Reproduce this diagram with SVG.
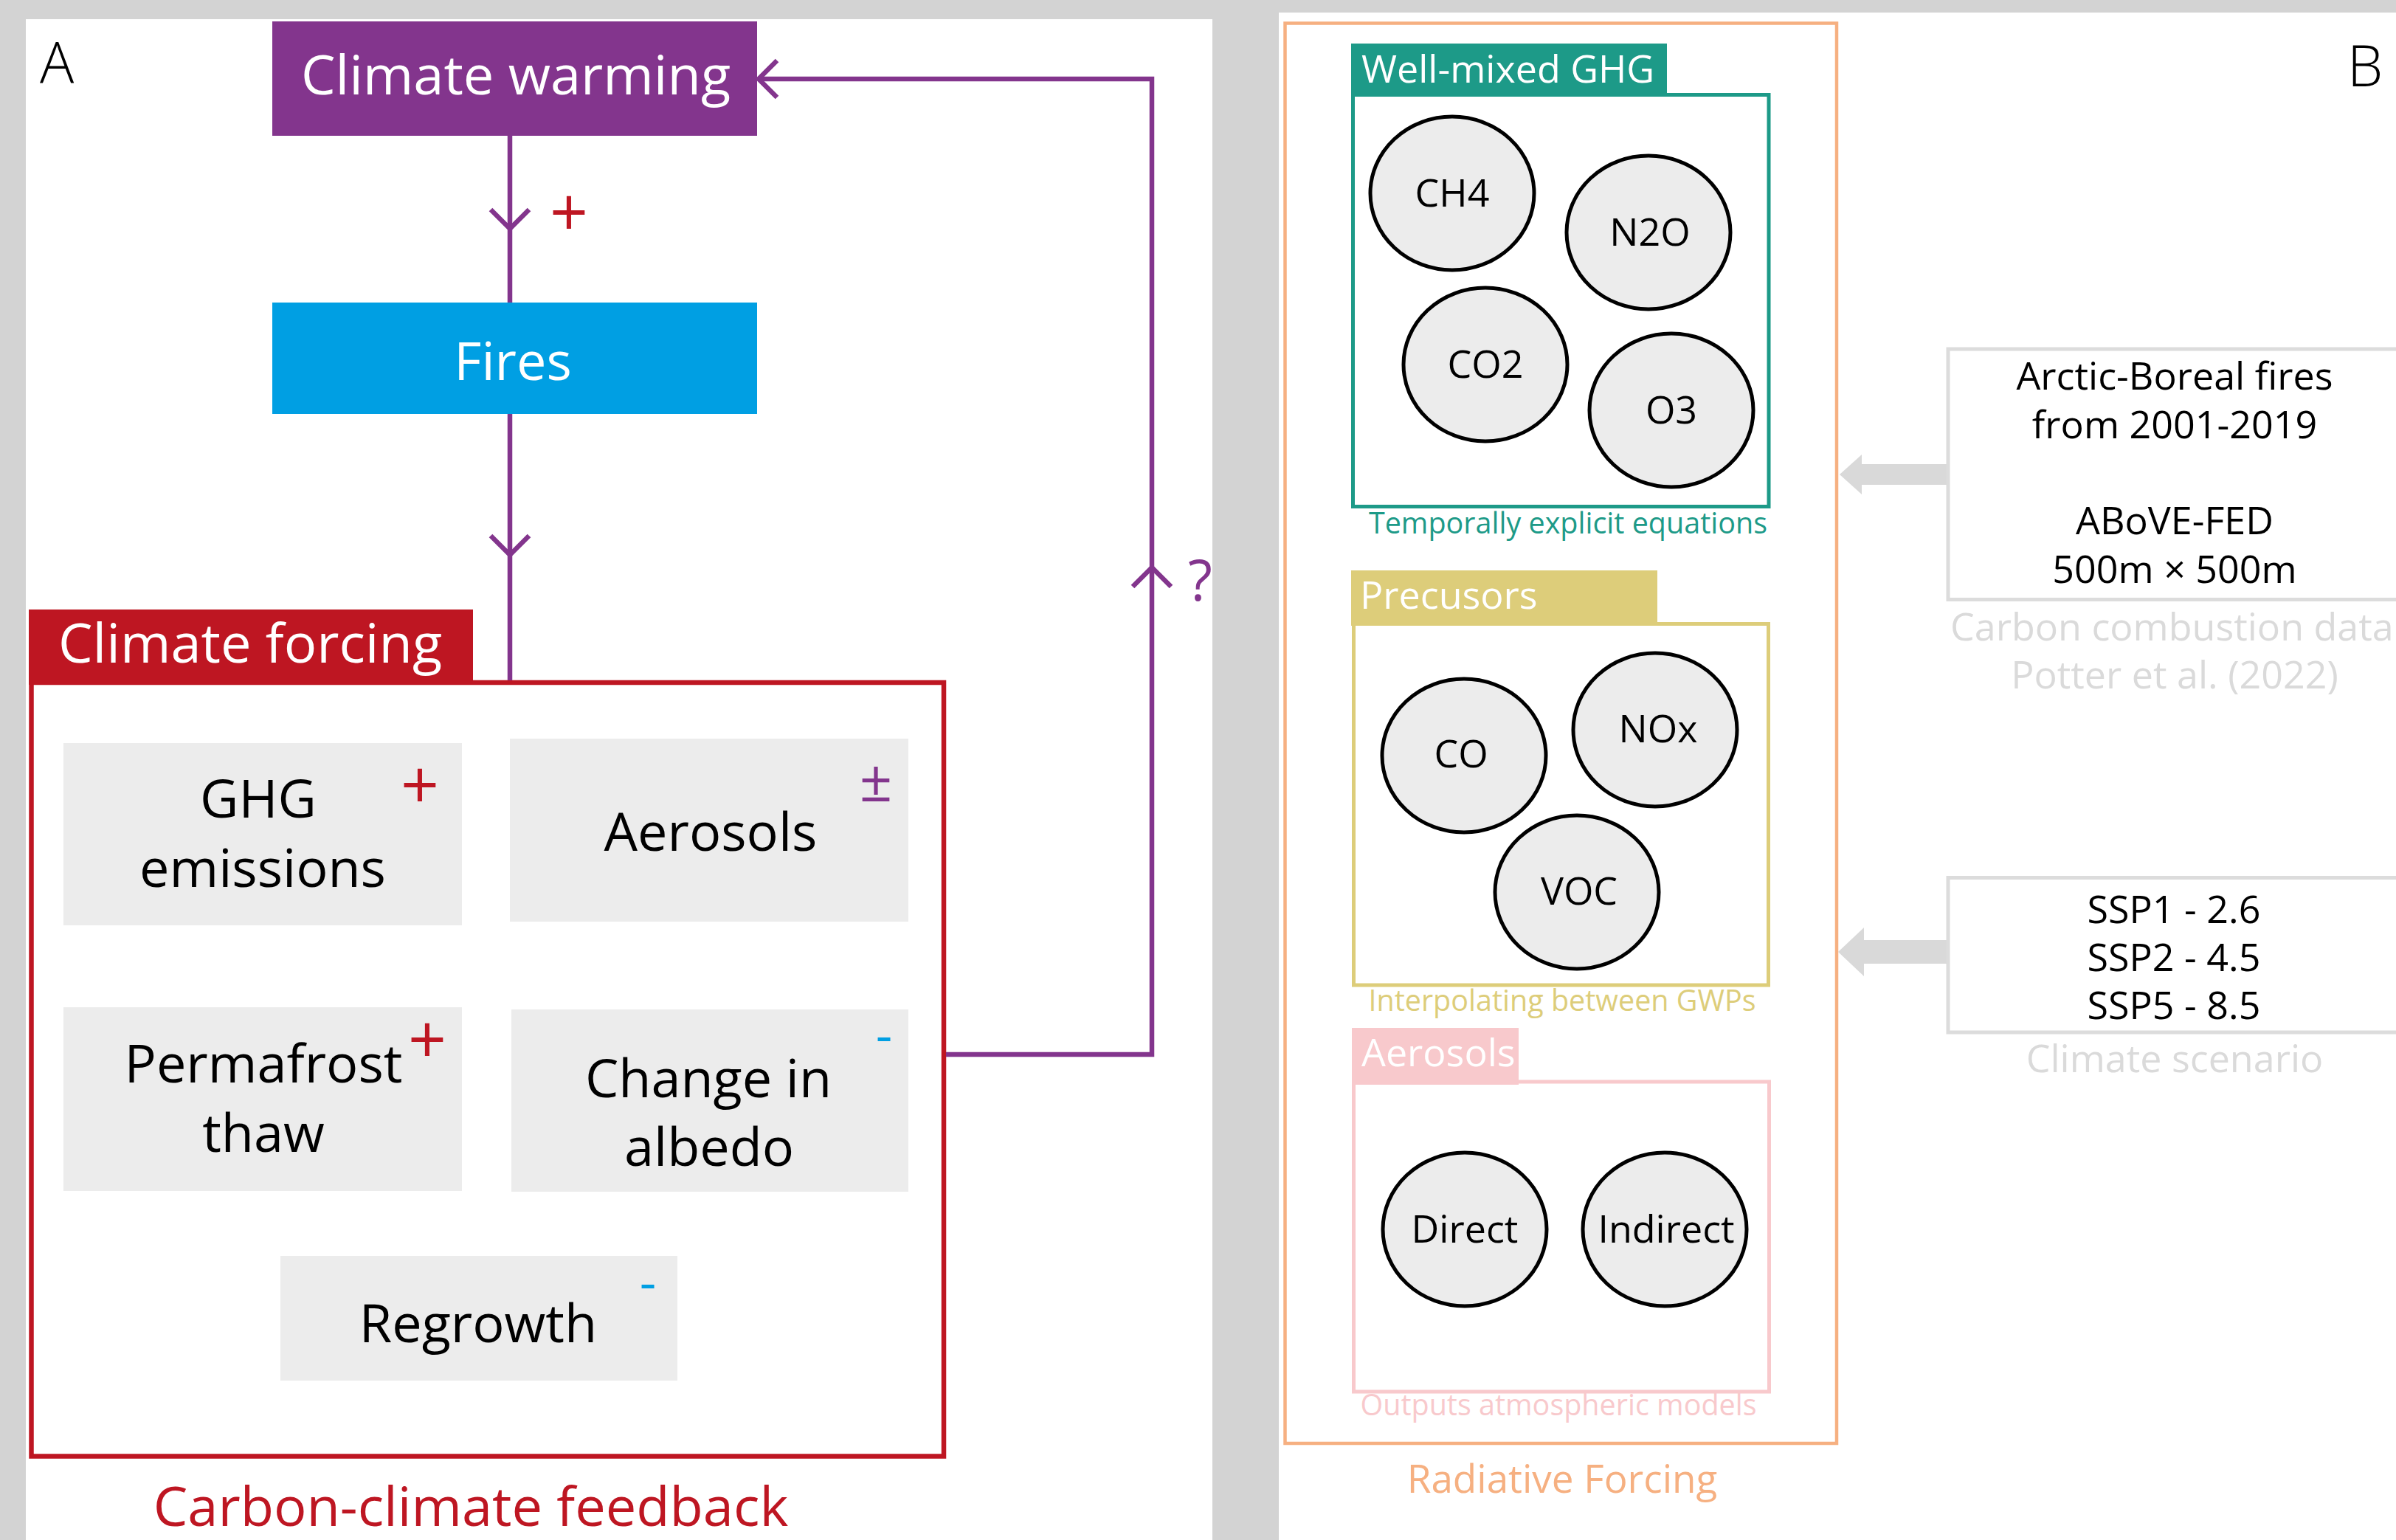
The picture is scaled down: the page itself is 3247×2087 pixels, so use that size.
<svg xmlns="http://www.w3.org/2000/svg" width="3247" height="2087" viewBox="0 0 3247 2087">
<style>
text{font-family:"Open Sans","Liberation Sans",sans-serif}
.w{fill:#ffffff}
.k{fill:#000000}
.c{text-anchor:middle}
.box{fill:#ececec}
.t72{font-size:72px}
.t52{font-size:52px}
.t39{font-size:39.5px}
.ell{fill:#ececec;stroke:#000000;stroke-width:5}
.pl{fill:none;stroke:#83358d;stroke-width:6.5}
.chev{fill:none;stroke:#83358d;stroke-width:6.5;stroke-linejoin:miter}
.gbox{fill:#ffffff;stroke:#dcdcdc;stroke-width:5}
.garrow{fill:#d9d9d9}
.gtxt{fill:#dadada;font-size:52px}
</style>
<rect x="0" y="0" width="3247" height="2087" fill="#d3d3d3"/>
<rect x="35" y="26" width="1608" height="2061" fill="#ffffff"/>
<rect x="1733" y="17" width="1514" height="2070" fill="#ffffff"/>

<text x="54" y="113" font-size="77" font-weight="300" class="k">A</text>
<text x="3181" y="117" font-size="77" font-weight="300" class="k">B</text>

<g id="climate-warming">
<rect x="369" y="29" width="657" height="155" fill="#83358d"/>
<text x="699" y="128" font-size="74" class="w c">Climate warming</text>
</g>
<g id="fires">
<rect x="369" y="410" width="657" height="151" fill="#009fe3"/>
<text x="695" y="515" class="w c t72">Fires</text>
</g>

<g id="climate-forcing">
<rect x="39" y="826" width="602" height="102" fill="#be1622"/>
<rect x="42.5" y="925" width="1236.5" height="1048.5" fill="none" stroke="#be1622" stroke-width="6.5"/>
<text x="79" y="898" font-size="74" class="w">Climate forcing</text>
<text x="638" y="2068" font-size="74" class="c" fill="#be1622">Carbon-climate feedback</text>
</g>
<g id="ghg-emissions">
<rect x="86" y="1007" width="540" height="247" class="box"/>
<text x="350" y="1108" class="k c t72">GHG</text>
<text x="356" y="1202" class="k c t72">emissions</text>
<text x="569" y="1096" font-size="91" class="c" fill="#be1622">+</text>
</g>
<g id="aerosols">
<rect x="691" y="1001" width="540" height="248" class="box"/>
<text x="963" y="1153" class="k c t72">Aerosols</text>
<text x="1187" y="1086" font-size="78" class="c" fill="#83358d">±</text>
</g>
<g id="permafrost-thaw">
<rect x="86" y="1365" width="540" height="249" class="box"/>
<text x="357" y="1467" class="k c t72">Permafrost</text>
<text x="357" y="1561" class="k c t72">thaw</text>
<text x="579" y="1441" font-size="91" class="c" fill="#be1622">+</text>
</g>
<g id="change-in-albedo">
<rect x="693" y="1368" width="538" height="247" class="box"/>
<text x="960" y="1487" class="k c t72">Change in</text>
<text x="961" y="1580" class="k c t72">albedo</text>
<text x="1198" y="1427" font-size="70" class="c" fill="#009fe3">-</text>
</g>
<g id="regrowth">
<rect x="380" y="1702" width="538" height="169" class="box"/>
<text x="648" y="1819" class="k c t72">Regrowth</text>
<text x="878" y="1762" font-size="70" class="c" fill="#009fe3">-</text>
</g>

<g id="connectors">
<path class="pl" d="M691,184 V410"/>
<polyline class="chev" points="665,284 691,310 717,284"/>
<text x="771" y="320" font-size="91" class="c" fill="#be1622">+</text>
<path class="pl" d="M691,561 V922"/>
<polyline class="chev" points="665,726 691,752 717,726"/>
<path class="pl" d="M1282,1429 H1561 V107 H1028"/>
<polyline class="chev" points="1535,795 1561,769 1587,795"/>
<polyline class="chev" points="1053,82 1028,107 1053,132"/>
<text x="1610" y="814" font-size="76" fill="#83358d">?</text>
<polygon class="garrow" points="2640,629 2523,629 2523,616 2493,643 2523,670 2523,657 2640,657"/>
<polygon class="garrow" points="2640,1274 2526,1274 2526,1257 2491,1290 2526,1323 2526,1306 2640,1306"/>
</g>

<g id="radiative-forcing">
<rect x="1741.5" y="31.5" width="747.5" height="1924.5" fill="none" stroke="#f6b081" stroke-width="4.5"/>
<text x="2117" y="2023" font-size="53" class="c" fill="#f6b081">Radiative Forcing</text>
</g>

<g id="well-mixed-ghg">
<rect x="1831" y="59" width="428" height="72" fill="#1d9a88"/>
<rect x="1833.5" y="128.5" width="563.5" height="558" fill="none" stroke="#1d9a88" stroke-width="5"/>
<text x="1845" y="112" class="w t52">Well-mixed GHG</text>
<text x="2125" y="723" class="c t39" fill="#1d9a88">Temporally explicit equations</text>
</g>
<g id="ch4"><ellipse cx="1968" cy="262" rx="111" ry="104" class="ell"/><text x="1968" y="280" class="k c t52">CH4</text></g>
<g id="n2o"><ellipse cx="2234" cy="315" rx="111" ry="104" class="ell"/><text x="2236" y="333" class="k c t52">N2O</text></g>
<g id="co2"><ellipse cx="2013" cy="494" rx="111" ry="104" class="ell"/><text x="2013" y="512" class="k c t52">CO2</text></g>
<g id="o3"><ellipse cx="2265" cy="556" rx="111" ry="104" class="ell"/><text x="2265" y="574" class="k c t52">O3</text></g>

<g id="precursors">
<rect x="1831" y="773" width="415" height="75" fill="#ddcd7a"/>
<rect x="1834.5" y="845.5" width="562" height="489.5" fill="none" stroke="#ddcd7a" stroke-width="5"/>
<text x="1843" y="825" class="w t52">Precusors</text>
<text x="2117" y="1370" class="c t39" fill="#ddcd7a">Interpolating between GWPs</text>
</g>
<g id="co"><ellipse cx="1984" cy="1024" rx="111" ry="104" class="ell"/><text x="1980" y="1040" class="k c t52">CO</text></g>
<g id="nox"><ellipse cx="2243" cy="989" rx="111" ry="104" class="ell"/><text x="2247" y="1006" class="k c t52">NOx</text></g>
<g id="voc"><ellipse cx="2137" cy="1209" rx="111" ry="104" class="ell"/><text x="2140" y="1226" class="k c t52">VOC</text></g>

<g id="aerosols-rf">
<rect x="1832" y="1393" width="226" height="77" fill="#f8c9cc"/>
<rect x="1834.5" y="1466" width="563" height="420" fill="none" stroke="#f8c9cc" stroke-width="5"/>
<text x="1845" y="1445" class="w t52">Aerosols</text>
<text x="2112" y="1918" class="c t39" fill="#f8c9cc">Outputs atmospheric models</text>
</g>
<g id="direct"><ellipse cx="1985" cy="1666" rx="111" ry="104" class="ell"/><text x="1985" y="1684" class="k c t52">Direct</text></g>
<g id="indirect"><ellipse cx="2256" cy="1666" rx="111" ry="104" class="ell"/><text x="2258" y="1684" class="k c t52">Indirect</text></g>

<g id="carbon-combustion-data">
<rect x="2640" y="473" width="614" height="339.5" class="gbox"/>
<text x="2947" y="528" class="k c t52">Arctic-Boreal fires</text>
<text x="2947" y="594" class="k c t52">from 2001-2019</text>
<text x="2947" y="724" class="k c t52">ABoVE-FED</text>
<text x="2947" y="790" class="k c t52">500m × 500m</text>
<text x="2643" y="868" class="gtxt">Carbon combustion data</text>
<text x="2947" y="933" class="gtxt c">Potter et al. (2022)</text>
</g>
<g id="climate-scenario">
<rect x="2640" y="1189.5" width="614" height="209.5" class="gbox"/>
<text x="2946" y="1251" class="k c t52">SSP1 - 2.6</text>
<text x="2946" y="1316" class="k c t52">SSP2 - 4.5</text>
<text x="2946" y="1381" class="k c t52">SSP5 - 8.5</text>
<text x="2947" y="1453" class="gtxt c">Climate scenario</text>
</g>
</svg>
